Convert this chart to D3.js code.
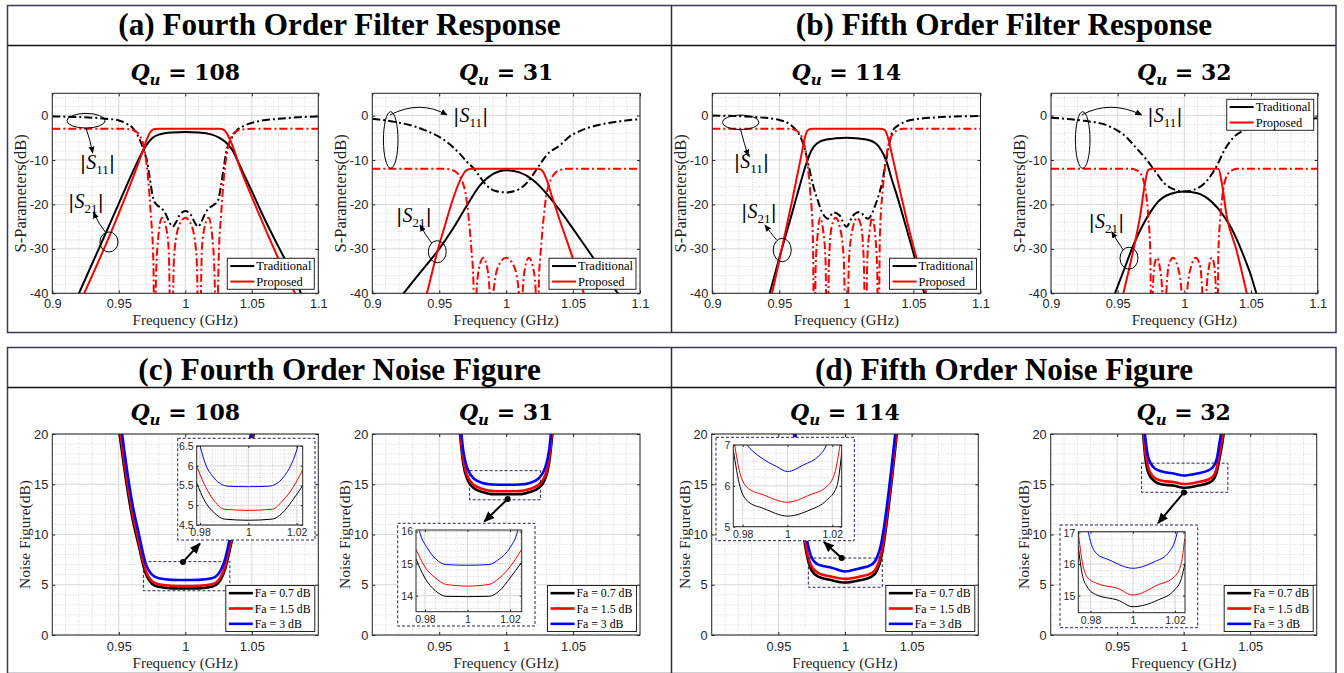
<!DOCTYPE html>
<html><head><meta charset="utf-8">
<script src="https://cdn.jsdelivr.net/npm/d3@7"></script>
<style>body{margin:0;background:#fff}svg{display:block}</style>
</head><body>
<svg id="c" width="1344" height="673"></svg>
<script>
// ---------------- DATA ----------------
const panelTitles = ['(a) Fourth Order Filter Response','(b) Fifth Order Filter Response','(c) Fourth Order Noise Figure','(d) Fifth Order Noise Figure'];
const qValues = ['108','31','114','32'];
const sparXTicks = [0.9,0.95,1,1.05,1.1];
const sparYTicks = [-40,-30,-20,-10,0];
const nfXTicks = [0.95,1,1.05];
const nfYTicks = [0,5,10,15,20];
const insetXTicks = [0.98,1,1.02];
const c108InsetYTicks = [4.5,5,5.5,6,6.5];
const c31InsetYTicks = [14,15,16];
const d114InsetYTicks = [5,6,7];
const d32InsetYTicks = [15,16,17];
const sparLegend = ['Traditional','Proposed'];
const nfLegend = ['Fa = 0.7 dB','Fa = 1.5 dB','Fa = 3 dB'];

// (a) Q=108 — [GHz, dB]
const a108_S21_trad = [[0.918,-41.3],[0.92,-40],[0.93,-33.3],[0.94,-26.6],[0.95,-19.8],[0.96,-13.0],[0.965,-9.8],[0.97,-7.0],[0.975,-5.1],[0.98,-4.3],[0.99,-3.8],[1.0,-3.7],[1.01,-3.8],[1.02,-4.3],[1.025,-4.9],[1.03,-5.9],[1.035,-7.6],[1.04,-10.6],[1.045,-13.8],[1.05,-17.0],[1.06,-23.5],[1.07,-29.5],[1.08,-35.3],[1.087,-40],[1.09,-42]];
const a108_S21_prop = [[0.921,-42],[0.924,-40],[0.93,-36],[0.94,-29.2],[0.95,-22],[0.96,-14.5],[0.965,-10.5],[0.968,-8],[0.971,-5.4],[0.974,-3.6],[0.977,-3.05],[0.98,-3],[1.0,-3],[1.026,-3],[1.028,-3.1],[1.031,-3.9],[1.034,-5.7],[1.037,-8.0],[1.04,-10.8],[1.05,-18.3],[1.06,-25.4],[1.07,-32.2],[1.08,-38.6],[1.0825,-40],[1.085,-42]];
const a108_S11_trad = [[0.9,-0.2],[0.92,-0.35],[0.94,-0.7],[0.95,-1.1],[0.955,-1.7],[0.961,-3],[0.966,-5.6],[0.969,-8],[0.971,-10],[0.973,-13.5],[0.976,-18.8],[0.979,-20.2],[0.982,-20.8],[0.985,-22],[0.988,-24],[0.9905,-25],[0.993,-24],[0.996,-22.3],[1.0,-21.5],[1.004,-22.3],[1.007,-24],[1.0095,-25],[1.012,-24],[1.015,-22],[1.018,-20.8],[1.021,-20.2],[1.0245,-19.2],[1.027,-15.5],[1.029,-11.5],[1.031,-7.9],[1.034,-5.6],[1.038,-3.6],[1.045,-2.2],[1.055,-1.3],[1.07,-0.75],[1.085,-0.4],[1.1,-0.2]];
const a108_S11_prop = [[0.9,-3],[0.955,-3],[0.96,-3.2],[0.963,-3.6],[0.966,-4.6],[0.968,-6],[0.97,-9],[0.972,-14],[0.974,-22],[0.976,-33],[0.977,-60],[0.978,-36],[0.98,-26.5],[0.9825,-23],[0.985,-24.5],[0.9875,-30],[0.9895,-60],[0.9915,-32],[0.995,-25],[1.0,-23],[1.005,-25],[1.0085,-32],[1.0105,-60],[1.0125,-30],[1.015,-24.5],[1.0175,-23],[1.02,-26.5],[1.022,-36],[1.0235,-60],[1.025,-33],[1.027,-22],[1.029,-14],[1.031,-9],[1.033,-6],[1.035,-4.6],[1.038,-3.6],[1.042,-3.2],[1.05,-3],[1.1,-3]];

// (a) Q=31
const a31_S21_trad = [[0.92,-41.2],[0.9233,-40],[0.93,-37.5],[0.94,-33.8],[0.95,-30],[0.96,-25.6],[0.97,-20.6],[0.98,-15.9],[0.99,-13.2],[1.0,-12.3],[1.01,-12.8],[1.02,-14.5],[1.03,-17.5],[1.04,-21.3],[1.05,-25.5],[1.06,-29.8],[1.07,-34.2],[1.08,-38.6],[1.0835,-40],[1.086,-41]];
const a31_S21_prop = [[0.938,-43],[0.9408,-40],[0.9486,-30.6],[0.955,-24],[0.96,-19],[0.966,-14.3],[0.97,-12.4],[0.974,-12],[1.0,-12],[1.024,-12],[1.027,-12.4],[1.03,-14.2],[1.034,-18],[1.04,-23.5],[1.048,-30.5],[1.058,-40],[1.06,-42]];
const a31_S11_trad = [[0.9,-0.7],[0.918,-1.5],[0.93,-2.3],[0.941,-3.5],[0.95,-4.8],[0.958,-6.5],[0.965,-8.5],[0.971,-10.5],[0.976,-12],[0.985,-15.6],[0.992,-17],[1.0,-17.3],[1.008,-16.8],[1.015,-15.3],[1.023,-12],[1.03,-9],[1.041,-6.5],[1.047,-4.8],[1.055,-3.5],[1.068,-2.2],[1.085,-1.3],[1.1,-0.8]];
const a31_S11_prop = [[0.9,-12],[0.955,-12],[0.96,-12.3],[0.963,-12.8],[0.966,-14],[0.968,-15.5],[0.97,-18],[0.972,-23],[0.974,-30],[0.9755,-37],[0.9765,-60],[0.978,-39],[0.98,-34],[0.983,-32],[0.986,-34.5],[0.9875,-39],[0.989,-60],[0.9905,-40],[0.994,-34],[1.0,-32],[1.006,-34],[1.0095,-40],[1.011,-60],[1.0125,-39],[1.014,-34.5],[1.017,-32],[1.02,-34],[1.022,-39],[1.0235,-60],[1.0245,-37],[1.026,-30],[1.028,-23],[1.03,-18],[1.032,-15.5],[1.034,-14],[1.037,-12.8],[1.04,-12.3],[1.045,-12],[1.1,-12]];

// (b) Q=114
const b114_S21_trad = [[0.94,-43],[0.9428,-40],[0.95,-32],[0.955,-26.7],[0.96,-21.4],[0.965,-16],[0.97,-10.9],[0.974,-7.8],[0.978,-6.3],[0.985,-5.4],[1.0,-5.0],[1.015,-5.4],[1.022,-6.3],[1.026,-7.8],[1.0295,-10],[1.034,-14.5],[1.038,-18.3],[1.043,-23.5],[1.048,-28.8],[1.058,-40],[1.06,-42.5]];
const b114_S21_prop = [[0.942,-43],[0.9445,-40],[0.95,-32.5],[0.955,-25.5],[0.96,-18.5],[0.964,-12.5],[0.967,-8],[0.969,-5],[0.971,-3.4],[0.973,-3.05],[0.975,-3],[1.025,-3],[1.027,-3.05],[1.029,-3.4],[1.031,-5],[1.033,-7.5],[1.036,-11.5],[1.04,-17],[1.045,-23.5],[1.05,-29.5],[1.0595,-40],[1.062,-43]];
const b114_S11_trad = [[0.9,0],[0.93,-0.3],[0.95,-1],[0.958,-2],[0.963,-3.5],[0.966,-5],[0.969,-7.5],[0.972,-11.5],[0.975,-15.5],[0.978,-18.5],[0.9815,-21.5],[0.986,-23.2],[0.9905,-21.8],[0.995,-22.5],[1.0,-25],[1.005,-22.5],[1.0095,-21.7],[1.016,-23.2],[1.022,-19.8],[1.025,-17],[1.027,-14.6],[1.029,-11],[1.031,-7.9],[1.033,-5],[1.0345,-3.4],[1.04,-2],[1.043,-1.5],[1.055,-0.7],[1.068,-0.4],[1.1,-0.1]];
const b114_S11_prop = [[0.9,-3],[0.958,-3],[0.962,-3.3],[0.965,-4],[0.967,-5],[0.969,-7],[0.971,-11],[0.973,-17],[0.975,-27],[0.9762,-60],[0.977,-35],[0.9785,-27],[0.9805,-23],[0.9825,-25.5],[0.9845,-33],[0.9855,-60],[0.987,-33],[0.989,-25],[0.992,-23],[0.995,-25],[0.998,-32],[1.0,-60],[1.002,-32],[1.005,-25],[1.008,-23],[1.011,-25],[1.013,-33],[1.0145,-60],[1.0155,-33],[1.0175,-25.5],[1.0195,-23],[1.0215,-27],[1.023,-35],[1.0238,-60],[1.025,-27],[1.027,-17],[1.029,-11],[1.031,-7],[1.033,-5],[1.035,-4],[1.038,-3.3],[1.042,-3],[1.1,-3]];

// (b) Q=32
const b32_S21_trad = [[0.945,-42.5],[0.948,-40],[0.955,-34.5],[0.96,-30.5],[0.965,-27],[0.97,-24],[0.975,-21.5],[0.98,-19.5],[0.99,-17.6],[1.0,-17.1],[1.01,-17.5],[1.02,-19.3],[1.03,-22.8],[1.035,-25.2],[1.04,-28.3],[1.045,-32],[1.05,-36],[1.054,-40],[1.057,-42.5]];
const b32_S21_prop = [[0.952,-43],[0.9543,-40],[0.9618,-30.2],[0.9668,-22.7],[0.9705,-15.2],[0.973,-12.2],[0.976,-12],[1.0,-12],[1.0255,-12],[1.028,-15],[1.0318,-22.7],[1.039,-30.2],[1.0468,-40],[1.049,-43]];
const b32_S11_trad = [[0.9,-0.5],[0.925,-1.2],[0.94,-2],[0.95,-3.4],[0.956,-4.7],[0.963,-7],[0.9718,-10],[0.978,-12.5],[0.987,-15.8],[1.0,-17.1],[1.012,-16],[1.024,-11.5],[1.03,-7.8],[1.037,-4.9],[1.045,-3.3],[1.052,-2.5],[1.065,-1.7],[1.08,-1.1],[1.1,-0.6]];
const b32_S11_prop = [[0.9,-12],[0.96,-12],[0.964,-12.3],[0.967,-13],[0.969,-14.2],[0.971,-17],[0.973,-23],[0.9745,-31],[0.9755,-60],[0.9765,-38],[0.978,-33],[0.9795,-32],[0.9815,-34],[0.9835,-40],[0.985,-60],[0.9865,-40],[0.9885,-33.5],[0.9915,-32],[0.995,-34],[0.998,-40],[1.0,-60],[1.002,-40],[1.005,-34],[1.0085,-32],[1.0115,-33.5],[1.0135,-40],[1.015,-60],[1.0165,-40],[1.0185,-34],[1.0205,-32],[1.022,-33],[1.0235,-38],[1.0245,-60],[1.0255,-31],[1.027,-23],[1.029,-17],[1.031,-14.2],[1.033,-13],[1.036,-12.3],[1.04,-12],[1.1,-12]];

// (c) Q=108 noise figure — [GHz, dB]
const c108_nf07 = [[0.948,22.5],[0.951,19.6],[0.955,15.8],[0.96,11.8],[0.965,8.9],[0.97,6.2],[0.975,5.1],[0.98,4.8],[0.99,4.64],[1.0,4.62],[1.01,4.64],[1.02,4.8],[1.025,5.2],[1.03,6.6],[1.035,9.4],[1.04,12.3],[1.045,15.4],[1.05,18.9],[1.053,21.2]];
const c108_nf15 = [[0.948,23.2],[0.951,20.2],[0.955,16.4],[0.96,12.3],[0.965,9.3],[0.97,6.5],[0.975,5.35],[0.98,5.05],[0.99,4.89],[1.0,4.87],[1.01,4.89],[1.02,5.05],[1.025,5.45],[1.03,6.9],[1.035,9.8],[1.04,12.8],[1.045,15.9],[1.05,19.4],[1.053,21.7]];
const c108_nf3 = [[0.948,24.5],[0.951,21.5],[0.955,17.5],[0.96,13.2],[0.965,10.1],[0.97,7.2],[0.975,6.0],[0.98,5.65],[0.99,5.49],[1.0,5.47],[1.01,5.49],[1.02,5.65],[1.025,6.1],[1.03,7.6],[1.035,10.6],[1.04,13.7],[1.045,16.9],[1.05,20.5],[1.053,22.8]];
const c108_in07 = [[0.9785,5.58],[0.982,5.1],[0.986,4.8],[0.99,4.65],[1.0,4.62],[1.01,4.65],[1.014,4.8],[1.018,5.1],[1.0225,5.5]];
const c108_in15 = [[0.9785,6.0],[0.982,5.5],[0.986,5.1],[0.99,4.9],[1.0,4.87],[1.01,4.9],[1.014,5.1],[1.019,5.5],[1.0225,5.9]];
const c108_in3 = [[0.9795,6.62],[0.98,6.5],[0.9825,6.0],[0.985,5.75],[0.988,5.56],[0.992,5.48],[1.0,5.47],[1.008,5.48],[1.012,5.56],[1.015,5.75],[1.0175,6.0],[1.0205,6.5],[1.021,6.62]];
const c108_zoomBox = [[0.9685,4.4],[1.0335,7.3]];
const c108_arrow = [[0.9983,7.27],[1.011,9.1]];

// (c) Q=31
const c31_nf07 = [[0.963,24],[0.9655,20],[0.968,17],[0.971,15.5],[0.976,14.6],[0.983,14.2],[0.99,14.0],[1.0,14.0],[1.01,14.0],[1.017,14.2],[1.024,14.6],[1.029,15.5],[1.032,17],[1.0345,20],[1.037,24]];
const c31_nf15 = [[0.963,24.5],[0.9655,20.5],[0.968,17.4],[0.971,15.85],[0.976,14.92],[0.983,14.5],[0.99,14.32],[1.0,14.3],[1.01,14.32],[1.017,14.5],[1.024,14.92],[1.029,15.85],[1.032,17.4],[1.0345,20.5],[1.037,24.5]];
const c31_nf3 = [[0.963,25.5],[0.9655,21.5],[0.968,18.3],[0.971,16.6],[0.976,15.55],[0.983,15.1],[0.99,14.97],[1.0,14.95],[1.01,14.97],[1.017,15.1],[1.024,15.55],[1.029,16.6],[1.032,18.3],[1.0345,21.5],[1.037,25.5]];
const c31_in07 = [[0.9758,15.15],[0.98,14.55],[0.985,14.15],[0.99,13.98],[1.0,13.97],[1.01,13.98],[1.015,14.15],[1.02,14.55],[1.0255,15.05]];
const c31_in15 = [[0.9758,15.45],[0.98,14.9],[0.985,14.55],[0.99,14.35],[1.0,14.3],[1.01,14.35],[1.015,14.55],[1.02,14.9],[1.0255,15.45]];
const c31_in3 = [[0.9765,16.3],[0.9775,16],[0.981,15.5],[0.985,15.15],[0.99,14.97],[1.0,14.95],[1.01,14.97],[1.015,15.15],[1.02,15.5],[1.0235,16],[1.0245,16.3]];
const c31_zoomBox = [[0.9727,13.45],[1.0257,16.35]];
const c31_arrow = [[1.0011,13.53],[0.9837,11.3]];

// (d) Q=114
const d114_nf07 = [[0.959,25],[0.9618,20],[0.964,16.3],[0.966,13.3],[0.968,10.9],[0.97,9.0],[0.972,7.6],[0.975,6.4],[0.98,5.8],[0.99,5.45],[1.0,5.22],[1.01,5.42],[1.02,5.8],[1.024,6.4],[1.027,7.6],[1.029,9.0],[1.031,10.9],[1.033,13.0],[1.035,15.3],[1.0375,18.3],[1.04,21.5],[1.043,25]];
const d114_nf15 = [[0.959,25.6],[0.9618,20.6],[0.964,16.9],[0.966,13.9],[0.968,11.4],[0.97,9.5],[0.972,8.0],[0.975,6.8],[0.98,6.15],[0.99,5.8],[1.0,5.58],[1.01,5.78],[1.02,6.15],[1.024,6.8],[1.027,8.0],[1.029,9.5],[1.031,11.4],[1.033,13.5],[1.035,15.8],[1.0375,18.8],[1.04,22],[1.043,25.5]];
const d114_nf3 = [[0.959,26.7],[0.9618,21.7],[0.964,18],[0.966,15],[0.968,12.5],[0.97,10.6],[0.972,9.1],[0.975,7.7],[0.98,7.0],[0.99,6.7],[1.0,6.32],[1.01,6.6],[1.02,7.0],[1.024,7.7],[1.027,9.0],[1.029,10.5],[1.031,12.4],[1.033,14.5],[1.035,16.8],[1.0375,19.8],[1.04,23],[1.043,26.5]];
const d114_in07 = [[0.9758,6.88],[0.9788,5.98],[0.9825,5.61],[0.9892,5.45],[1.0,5.26],[1.01,5.41],[1.0175,5.65],[1.022,5.98],[1.0242,6.8]];
const d114_in15 = [[0.9755,7.3],[0.9764,7.0],[0.9788,6.3],[0.9825,5.94],[0.9892,5.78],[1.0,5.6],[1.01,5.78],[1.0175,5.98],[1.0213,6.35],[1.0235,7.0],[1.0245,7.3]];
const d114_in3 = [[0.981,7.1],[0.982,7.0],[0.9845,6.85],[0.9877,6.71],[0.9952,6.47],[1.0,6.35],[1.0071,6.51],[1.0145,6.76],[1.0165,6.9],[1.0174,7.0],[1.0185,7.1]];
const d114_zoomBox = [[0.9725,4.75],[1.028,7.66]];
const d114_arrow = [[0.9975,7.67],[0.9842,9.26]];

// (d) Q=32
const d32_nf07 = [[0.967,23],[0.9695,20],[0.971,17.8],[0.9735,16.1],[0.978,15.3],[0.983,15.0],[0.993,14.85],[1.0,14.65],[1.01,14.85],[1.019,15.15],[1.023,15.6],[1.025,16.3],[1.027,17.6],[1.03,20],[1.032,22.5]];
const d32_nf15 = [[0.967,23.6],[0.9695,20.6],[0.971,18.4],[0.9735,16.6],[0.978,15.65],[0.983,15.38],[0.993,15.2],[1.0,15.02],[1.01,15.2],[1.019,15.5],[1.023,15.95],[1.025,16.7],[1.027,18.1],[1.03,20.6],[1.032,23.1]];
const d32_nf3 = [[0.967,25],[0.9695,22],[0.971,19.8],[0.9735,17.6],[0.978,16.6],[0.983,16.3],[0.993,16.05],[1.0,15.87],[1.01,16.07],[1.019,16.4],[1.023,16.9],[1.025,17.6],[1.027,19.2],[1.03,21.8],[1.032,24.5]];
const d32_in07 = [[0.9742,16.55],[0.976,15.7],[0.9783,15.29],[0.983,15.02],[0.9929,14.86],[1.0,14.65],[1.0118,14.86],[1.0197,15.18],[1.023,15.55],[1.0247,16.03]];
const d32_in15 = [[0.9742,17],[0.976,16.1],[0.9783,15.6],[0.983,15.39],[0.9929,15.23],[1.0,15.02],[1.0118,15.34],[1.0197,15.6],[1.023,16.05],[1.0245,16.8]];
const d32_in3 = [[0.9785,17.2],[0.979,17],[0.9828,16.34],[0.989,16.13],[1.0,15.87],[1.0103,16.08],[1.0166,16.34],[1.021,17],[1.0215,17.2]];
const d32_zoomBox = [[0.9683,14.2],[1.0332,17.1]];
const d32_arrow = [[1.0002,14.19],[0.9807,11.14]];

// annotation anchors (data coords): ellipse centers / radii, arrow start/ctrl/end, label anchor
const a108_ann = {e11:[0.92534,-1.17,0.0143,1.65], ar11:[[0.92534,-2.81],[0.9285,-5.5],[0.93038,-8.43]], l11:[0.934,-12.0],
  e21:[0.94263,-28.46,0.0068,2.25], ar21:[[0.94038,-26.43],[0.9345,-24.3],[0.93098,-21.7]], l21:[0.92534,-20.8]};
const a31_ann = {e11:[0.91375,-5.51,0.00545,6.37], ar11:[[0.91322,0.12],[0.9357,3.6],[0.9558,0.12]], l11:[0.97351,-1.39],
  e21:[0.94856,-30.64,0.0067,2.48], ar21:[[0.94437,-28.68],[0.9397,-26.9],[0.93563,-24.63]], l21:[0.93115,-23.9]};
const b114_ann = {e11:[0.92116,-1.53,0.01364,1.64], ar11:[[0.92116,-3.26],[0.9238,-6.3],[0.92682,-9.11]], l11:[0.9292,-11.8],
  e21:[0.95216,-30.26,0.0067,2.63], ar21:[[0.94798,-28.0],[0.9435,-26.4],[0.93927,-24.63]], l21:[0.9348,-23.06]};
const b32_ann = {e11:[0.92377,-5.51,0.00548,6.37], ar11:[[0.92302,0.12],[0.9443,3.6],[0.96801,0.12]], l11:[0.98549,-1.39],
  e21:[0.9585,-32.1,0.00675,2.48], ar21:[[0.95422,-30.26],[0.9497,-28.3],[0.94552,-26.14]], l21:[0.94155,-25.3]};

// ---------------- DRAWING ----------------
const SERIF = '"Liberation Serif","Times New Roman",serif';
const SANS = '"Liberation Sans",Arial,sans-serif';
const MATHF = '"DejaVu Serif",serif';
const INK = '#262626';
const svg = d3.select('#c');
const defs = svg.append('defs');
function mk(id, size){
  defs.append('marker').attr('id',id).attr('viewBox','0 0 10 10').attr('refX',9).attr('refY',5)
    .attr('markerUnits','userSpaceOnUse').attr('markerWidth',size).attr('markerHeight',size).attr('orient','auto')
    .append('path').attr('d','M0,0.8 L10,5 L0,9.2 Z').attr('fill','#000');
}
mk('ahS',7); mk('ahL',11);

// frames
const fr = svg.append('g');
[[5.5,332.5,45.5],[347.5,673.5,387.5]].forEach(([t,b,s])=>{
  fr.append('rect').attr('x',7.5).attr('y',t).attr('width',1328.5).attr('height',b-t).attr('fill','none').attr('stroke','#3b3b56').attr('stroke-width',1.5);
  fr.append('line').attr('x1',7.5).attr('x2',1336).attr('y1',s).attr('y2',s).attr('stroke','#111').attr('stroke-width',1.5);
  fr.append('line').attr('x1',671.5).attr('x2',671.5).attr('y1',t).attr('y2',b).attr('stroke','#2b2b45').attr('stroke-width',1.5);
});
[[339.5,34.5],[1004,34.5],[339.5,379.5],[1004,379.5]].forEach(([cx,by],i)=>{
  svg.append('text').attr('x',cx).attr('y',by).attr('text-anchor','middle').attr('font-family',SERIF)
    .attr('font-weight','bold').attr('font-size',31.2).attr('fill','#000').text(panelTitles[i]);
});

let clipN = 0;
function mgrid(a,b,step){ const s=Math.ceil(a/step-1e-6), e=Math.floor(b/step+1e-6); return d3.range(s,e+1).map(i=>+(i*step).toFixed(6)); }

function drawAxes(g, o){
  const x = d3.scaleLinear().domain(o.xd).range([o.x0,o.x1]);
  const y = d3.scaleLinear().domain(o.yd).range([o.y1,o.y0]);
  g.append('rect').attr('x',o.x0).attr('y',o.y0).attr('width',o.x1-o.x0).attr('height',o.y1-o.y0).attr('fill','#fff');
  const gg = g.append('g');
  const mxs = mgrid(o.xd[0],o.xd[1],o.xMinor), mys = mgrid(o.yd[0],o.yd[1],o.yMinor);
  gg.selectAll(null).data(mxs).join('line').attr('x1',d=>x(d)).attr('x2',d=>x(d)).attr('y1',o.y0).attr('y2',o.y1)
    .attr('stroke','#c6c6c6').attr('stroke-width',0.7).attr('stroke-dasharray','1,1.6');
  gg.selectAll(null).data(mys).join('line').attr('y1',d=>y(d)).attr('y2',d=>y(d)).attr('x1',o.x0).attr('x2',o.x1)
    .attr('stroke','#c6c6c6').attr('stroke-width',0.7).attr('stroke-dasharray','1,1.6');
  const mjx = o.xGrid || o.xt, mjy = o.yGrid || o.yt;
  gg.selectAll(null).data(mjx).join('line').attr('x1',d=>x(d)).attr('x2',d=>x(d)).attr('y1',o.y0).attr('y2',o.y1)
    .attr('stroke','#dcdcdc').attr('stroke-width',1);
  gg.selectAll(null).data(mjy).join('line').attr('y1',d=>y(d)).attr('y2',d=>y(d)).attr('x1',o.x0).attr('x2',o.x1)
    .attr('stroke','#dcdcdc').attr('stroke-width',1);
  const id = 'clip'+(clipN++);
  defs.append('clipPath').attr('id',id).append('rect').attr('x',o.x0).attr('y',o.y0).attr('width',o.x1-o.x0).attr('height',o.y1-o.y0);
  const plot = g.append('g').attr('clip-path',`url(#${id})`);
  return {x,y,plot};
}
function finishAxes(g, o, x, y){
  const ts = o.tick || 3;
  const style = sel => { sel.select('.domain').remove(); sel.selectAll('line').attr('stroke',INK);
    sel.selectAll('text').attr('font-family',SANS).attr('font-size',o.fs).attr('fill',INK); sel.attr('font-size',null).attr('font-family',null); };
  g.append('g').attr('transform',`translate(0,${o.y1})`).call(d3.axisBottom(x).tickValues(o.xt).tickSize(-ts).tickPadding(o.xpad).tickFormat(d=>String(d))).call(style);
  g.append('g').attr('transform',`translate(0,${o.y0})`).call(d3.axisTop(x).tickValues(o.xt).tickSize(-ts).tickFormat('')).call(style);
  g.append('g').attr('transform',`translate(${o.x0},0)`).call(d3.axisLeft(y).tickValues(o.yt).tickSize(-ts).tickPadding(o.ypad).tickFormat(d=>String(d))).call(style);
  g.append('g').attr('transform',`translate(${o.x1},0)`).call(d3.axisRight(y).tickValues(o.yt).tickSize(-ts).tickFormat('')).call(style);
  g.append('rect').attr('x',o.x0).attr('y',o.y0).attr('width',o.x1-o.x0).attr('height',o.y1-o.y0)
    .attr('fill','none').attr('stroke',INK).attr('stroke-width',1);
}
function lineGen(x,y){ return d3.line().x(d=>x(d[0])).y(d=>y(d[1])).curve(d3.curveMonotoneX); }
function drawQ(cx, by, q){
  const t = svg.append('text').attr('x',cx).attr('y',by).attr('text-anchor','middle').attr('font-family',MATHF)
    .attr('font-weight','bold').attr('font-size',22).attr('fill','#000');
  t.append('tspan').attr('font-style','italic').text('Q');
  t.append('tspan').attr('font-style','italic').attr('font-size',15).attr('dy',5).text('u');
  t.append('tspan').attr('dy',-5).text(' = '+q);
}
function axisLabels(o, ylab, yOff){
  svg.append('text').attr('x',(o.x0+o.x1)/2).attr('y',o.y1+o.xlabOff).attr('text-anchor','middle')
    .attr('font-family',SERIF).attr('font-size',15).attr('fill',INK).text('Frequency (GHz)');
  svg.append('text').attr('transform',`translate(${o.x0-yOff},${(o.y0+o.y1)/2}) rotate(-90)`).attr('text-anchor','middle')
    .attr('font-family',SERIF).attr('font-size',o.ylfs).attr('fill',INK).text(ylab);
}
function legend(g, bx, by, w, h, labels, colors, fs, lw){
  g.append('rect').attr('x',bx).attr('y',by).attr('width',w).attr('height',h).attr('fill','#fff').attr('stroke',INK).attr('stroke-width',1);
  const rh = h/labels.length;
  labels.forEach((lab,i)=>{
    const cy = by + rh*(i+0.5);
    g.append('line').attr('x1',bx+3).attr('x2',bx+27).attr('y1',cy).attr('y2',cy).attr('stroke',colors[i]).attr('stroke-width',lw);
    g.append('text').attr('x',bx+29).attr('y',cy).attr('dy','0.35em').attr('font-family',SERIF).attr('font-size',fs).attr('fill','#000').text(lab);
  });
}
function sLabel(g, x, y, sub){
  const t = g.append('text').attr('x',x).attr('y',y).attr('text-anchor','middle').attr('font-family',SERIF).attr('font-size',20).attr('fill','#000');
  t.append('tspan').attr('font-family',MATHF).attr('font-size',19).text('|');
  t.append('tspan').attr('font-style','italic').text('S');
  t.append('tspan').attr('font-size',13).attr('dy',5).text(sub);
  t.append('tspan').attr('font-family',MATHF).attr('font-size',19).attr('dy',-5).text('|');
}
function annotate(g, x, y, A){
  const ell = (e)=> g.append('ellipse').attr('cx',x(e[0])).attr('cy',y(e[1])).attr('rx',x(e[0]+e[2])-x(e[0])).attr('ry',y(e[1]-e[3])-y(e[1]))
      .attr('fill','none').attr('stroke','#000').attr('stroke-width',1);
  const arr = (p)=> g.append('path').attr('d',`M${x(p[0][0])},${y(p[0][1])} Q${x(p[1][0])},${y(p[1][1])} ${x(p[2][0])},${y(p[2][1])}`)
      .attr('fill','none').attr('stroke','#000').attr('stroke-width',1).attr('marker-end','url(#ahS)');
  ell(A.e11); arr(A.ar11); sLabel(g, x(A.l11[0]), y(A.l11[1]), '11');
  ell(A.e21); arr(A.ar21); sLabel(g, x(A.l21[0]), y(A.l21[1]), '21');
}

// ---- S-parameter plots ----
const topPlots = [
  {x0:52.3,x1:318.3,q:qValues[0],d:[a108_S21_trad,a108_S11_trad,a108_S21_prop,a108_S11_prop],ann:a108_ann,leg:'br'},
  {x0:372.3,x1:640,q:qValues[1],d:[a31_S21_trad,a31_S11_trad,a31_S21_prop,a31_S11_prop],ann:a31_ann,leg:'br'},
  {x0:712.3,x1:980.5,q:qValues[2],d:[b114_S21_trad,b114_S11_trad,b114_S21_prop,b114_S11_prop],ann:b114_ann,leg:'br'},
  {x0:1051,x1:1317.7,q:qValues[3],d:[b32_S21_trad,b32_S11_trad,b32_S21_prop,b32_S11_prop],ann:b32_ann,leg:'tr'}
];
topPlots.forEach(p=>{
  const o = {x0:p.x0,x1:p.x1,y0:93.3,y1:293.3,xd:[0.9,1.1],yd:[-40,5],xt:sparXTicks,yt:sparYTicks,xMinor:0.01,yMinor:2,
    fs:12.8,xpad:6,ypad:4,xlabOff:32,ylfs:16.5};
  const g = svg.append('g');
  const {x,y,plot} = drawAxes(g,o);
  const L = lineGen(x,y);
  const styles = [['#000',null],['#000','8,3,2,3'],['#f00',null],['#f00','8,3,2,3']];
  p.d.forEach((ser,i)=>{
    plot.append('path').attr('d',L(ser)).attr('fill','none').attr('stroke',styles[i][0]).attr('stroke-width',2)
      .attr('stroke-dasharray',styles[i][1]).attr('stroke-linejoin','round');
  });
  finishAxes(g,o,x,y);
  annotate(g,x,y,p.ann);
  const lw=87, lh=31;
  const by = p.leg==='br' ? o.y1-4-lh : o.y0+6;
  legend(g, o.x1-4-lw, by, lw, lh, sparLegend, ['#000','#f00'], 12.5, 2);
  drawQ((o.x0+o.x1)/2, 80, p.q);
  axisLabels(o,'S-Parameters(dB)',26);
});

// ---- Noise figure plots ----
const nfColors = ['#000','#f00','#00f'];
const botPlots = [
  {x0:52.3,x1:318.3,q:qValues[0],d:[c108_nf07,c108_nf15,c108_nf3],box:c108_zoomBox,arrow:c108_arrow,
   inset:{ox:177.7,oy:438.3,ow:137.3,oh:101.7,x0:196.7,x1:302.7,y0:446,y1:525,xd:[0.9786,1.0225],yd:[4.5,6.5],yt:c108InsetYTicks,yMinor:0.1,d:[c108_in07,c108_in15,c108_in3]}},
  {x0:372.3,x1:640,q:qValues[1],d:[c31_nf07,c31_nf15,c31_nf3],box:c31_zoomBox,arrow:c31_arrow,
   inset:{ox:397.7,oy:523.3,ow:137.3,oh:102.7,x0:416,x1:521.7,y0:530,y1:611.7,xd:[0.9758,1.0255],yd:[13.5,16.05],yt:c31InsetYTicks,yMinor:0.2,d:[c31_in07,c31_in15,c31_in3]}},
  {x0:711.7,x1:978.3,q:qValues[2],d:[d114_nf07,d114_nf15,d114_nf3],box:d114_zoomBox,arrow:d114_arrow,
   inset:{ox:716,oy:437.3,ow:138.3,oh:103.4,x0:733.3,x1:841.7,y0:445,y1:526.7,xd:[0.9758,1.0242],yd:[5,7],yt:d114InsetYTicks,yMinor:0.2,d:[d114_in07,d114_in15,d114_in3]}},
  {x0:1050.7,x1:1316.7,q:qValues[3],d:[d32_nf07,d32_nf15,d32_nf3],box:d32_zoomBox,arrow:d32_arrow,
   inset:{ox:1060,oy:525,ow:137.7,oh:102.7,x0:1078.3,x1:1185,y0:531.7,y1:612.7,xd:[0.9742,1.0247],yd:[14.46,17.03],yt:d32InsetYTicks,yMinor:0.2,d:[d32_in07,d32_in15,d32_in3]}}
];
botPlots.forEach(p=>{
  const o = {x0:p.x0,x1:p.x1,y0:434,y1:635,xd:[0.9,1.1],yd:[0,20],xt:nfXTicks,yt:nfYTicks,xGrid:[0.95,1,1.05],xMinor:0.01,yMinor:1,
    fs:12.8,xpad:7,ypad:4,xlabOff:33,ylfs:15.5};
  const g = svg.append('g');
  const {x,y,plot} = drawAxes(g,o);
  const L = lineGen(x,y);
  p.d.forEach((ser,i)=>{
    plot.append('path').attr('d',L(ser)).attr('fill','none').attr('stroke',nfColors[i]).attr('stroke-width',2.6).attr('stroke-linejoin','round');
  });
  finishAxes(g,o,x,y);
  const b = p.box;
  g.append('rect').attr('x',x(b[0][0])).attr('y',y(b[1][1])).attr('width',x(b[1][0])-x(b[0][0])).attr('height',y(b[0][1])-y(b[1][1]))
    .attr('fill','none').attr('stroke','#262650').attr('stroke-width',1).attr('stroke-dasharray','3,2');
  const a = p.arrow;
  g.append('line').attr('x1',x(a[0][0])).attr('y1',y(a[0][1])).attr('x2',x(a[1][0])).attr('y2',y(a[1][1]))
    .attr('stroke','#000').attr('stroke-width',2).attr('marker-end','url(#ahL)');
  g.append('circle').attr('cx',x(a[0][0])).attr('cy',y(a[0][1])).attr('r',3).attr('fill','#000');
  legend(g, o.x1-3.5-89, o.y1-3.5-46, 89, 46, nfLegend, nfColors, 11.8, 2.6);
  const I = p.inset;
  g.append('rect').attr('x',I.ox).attr('y',I.oy).attr('width',I.ow).attr('height',I.oh).attr('fill','#fff')
    .attr('stroke','#262650').attr('stroke-width',1).attr('stroke-dasharray','3,2');
  const io = {x0:I.x0,x1:I.x1,y0:I.y0,y1:I.y1,xd:I.xd,yd:I.yd,xt:insetXTicks,yt:I.yt,xMinor:0.005,yMinor:I.yMinor,fs:10.5,xpad:4,ypad:3,tick:2};
  const ig = g.append('g');
  const A = drawAxes(ig,io);
  const IL = lineGen(A.x,A.y);
  I.d.forEach((ser,i)=>{
    A.plot.append('path').attr('d',IL(ser)).attr('fill','none').attr('stroke',nfColors[i]).attr('stroke-width',1);
  });
  finishAxes(ig,io,A.x,A.y);
  drawQ((o.x0+o.x1)/2, 420, p.q);
  axisLabels(o,'Noise Figure(dB)',22);
});
</script>
</body></html>
